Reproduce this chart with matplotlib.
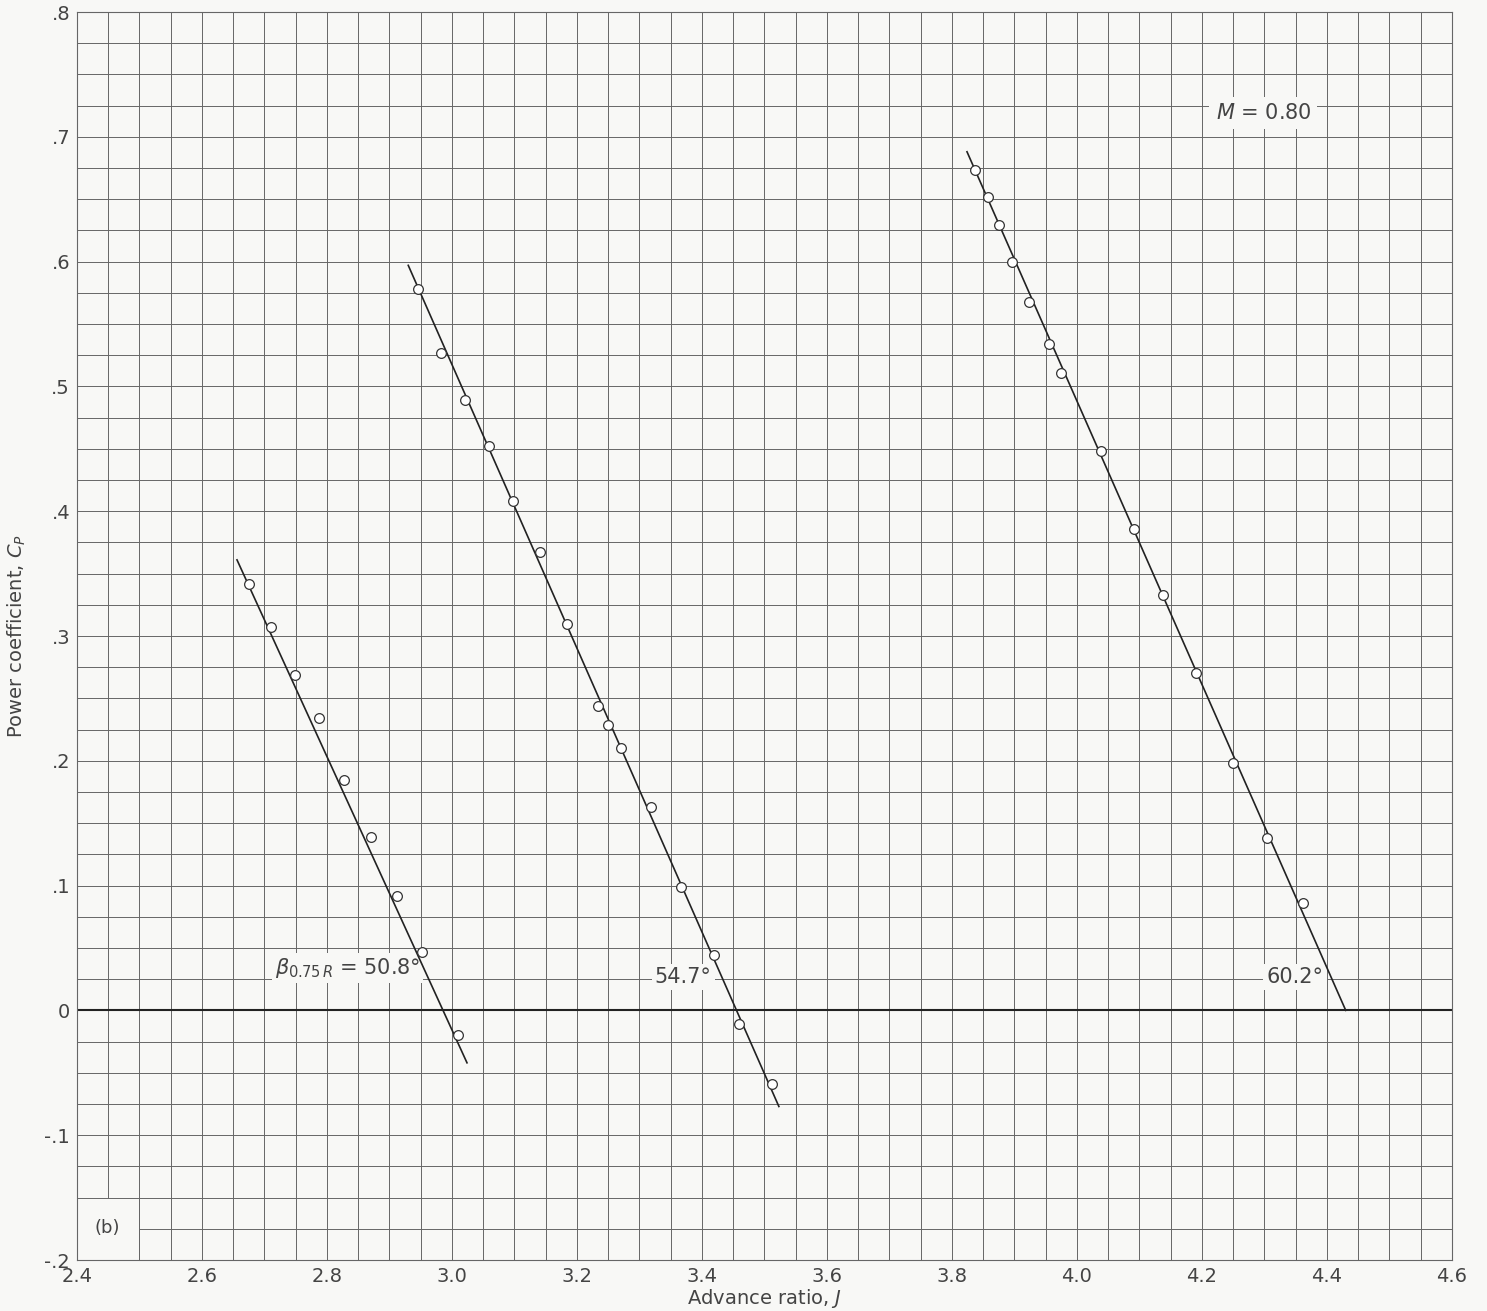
import matplotlib
matplotlib.use("Agg")
import matplotlib.pyplot as plt
from matplotlib.patches import Rectangle
import numpy as np

# ---- data ----
j_508 = [2.675, 2.710, 2.749, 2.787, 2.827, 2.870, 2.912, 2.952, 3.010]
cp_508 = [0.342, 0.307, 0.269, 0.234, 0.185, 0.139, 0.092, 0.047, -0.020]
fair_j_508 = [2.656, 3.024]
fair_cp_508 = [0.361, -0.042]

j_547 = [2.946, 2.982, 3.021, 3.059, 3.098, 3.141, 3.184, 3.234, 3.250, 3.270,
         3.318, 3.366, 3.419, 3.459, 3.512]
cp_547 = [0.578, 0.527, 0.489, 0.452, 0.408, 0.367, 0.310, 0.244, 0.229, 0.210,
          0.163, 0.099, 0.044, -0.011, -0.059]
fair_j_547 = [2.930, 3.523]
fair_cp_547 = [0.597, -0.077]

j_602 = [3.837, 3.858, 3.875, 3.896, 3.923, 3.955, 3.974, 4.038, 4.091, 4.138,
         4.190, 4.250, 4.304, 4.362]
cp_602 = [0.673, 0.652, 0.629, 0.600, 0.568, 0.534, 0.511, 0.448, 0.386, 0.333,
          0.270, 0.198, 0.138, 0.086]
fair_j_602 = [3.824, 4.430]
fair_cp_602 = [0.688, 0.0]

x_ticks = [2.4, 2.6, 2.8, 3.0, 3.2, 3.4, 3.6, 3.8, 4.0, 4.2, 4.4, 4.6]
x_ticklabels = ["2.4", "2.6", "2.8", "3.0", "3.2", "3.4", "3.6", "3.8", "4.0", "4.2", "4.4", "4.6"]
y_ticks = [-0.2, -0.1, 0.0, 0.1, 0.2, 0.3, 0.4, 0.5, 0.6, 0.7, 0.8]
y_ticklabels = ["-.2", "-.1", "0", ".1", ".2", ".3", ".4", ".5", ".6", ".7", ".8"]

BG = "#f8f8f6"
GRID = "#666666"
TXT = "#444444"

fig = plt.figure(figsize=(14.87, 13.11), dpi=100, facecolor=BG)
ax = fig.add_axes([77/1487, 1 - 1260/1311, (1452 - 77)/1487, (1260 - 12)/1311])
ax.set_facecolor(BG)
ax.set_xlim(2.4, 4.6)
ax.set_ylim(-0.2, 0.8)

ax.set_xticks(x_ticks)
ax.set_xticklabels(x_ticklabels)
ax.set_yticks(y_ticks)
ax.set_yticklabels(y_ticklabels)
ax.set_xticks(np.arange(2.4, 4.6001, 0.05), minor=True)
ax.set_yticks(np.arange(-0.2, 0.8001, 0.025), minor=True)
ax.grid(which="both", color=GRID, linewidth=0.7, zorder=0)
ax.set_axisbelow(True)
ax.tick_params(which="both", length=0)
ax.tick_params(axis="x", pad=5, labelsize=14, labelcolor=TXT)
ax.tick_params(axis="y", pad=5, labelsize=14, labelcolor=TXT)
for s in ax.spines.values():
    s.set_color(GRID)
    s.set_linewidth(0.8)

ax.axhline(0, color="#222222", linewidth=1.5, zorder=1)

for fj, fc, j, cp in [(fair_j_508, fair_cp_508, j_508, cp_508),
                      (fair_j_547, fair_cp_547, j_547, cp_547),
                      (fair_j_602, fair_cp_602, j_602, cp_602)]:
    ax.plot(fj, fc, color="#222222", linewidth=1.2, zorder=3)
    ax.plot(j, cp, linestyle="none", marker="o", markersize=7,
            markerfacecolor="white", markeredgecolor="#333333",
            markeredgewidth=0.9, zorder=4)

box = dict(boxstyle="square,pad=0.15", facecolor=BG, edgecolor="none")
ax.text(2.717, 0.034, r"$\beta_{0.75\,R}$ = 50.8°", fontsize=15, color=TXT,
        ha="left", va="center", bbox=box, zorder=2)
ax.text(3.370, 0.027, "54.7°", fontsize=15, color=TXT, ha="center", va="center",
        bbox=box, zorder=2)
ax.text(4.349, 0.027, "60.2°", fontsize=15, color=TXT, ha="center", va="center",
        bbox=box, zorder=2)
ax.text(4.298, 0.719, r"$M$ = 0.80", fontsize=15, color=TXT, ha="center", va="center",
        bbox=dict(boxstyle="square,pad=0.3", facecolor=BG, edgecolor="none"), zorder=2)

ax.add_patch(Rectangle((2.4, -0.2), 0.1, 0.05, facecolor=BG, edgecolor="none", zorder=1.5))
ax.plot([2.5, 2.5], [-0.2, -0.15], color=GRID, linewidth=0.7, zorder=1.6)
ax.plot([2.4, 2.5], [-0.15, -0.15], color=GRID, linewidth=0.7, zorder=1.6)
ax.text(2.448, -0.174, "(b)", fontsize=13, color=TXT, ha="center", va="center", zorder=2)

ax.set_xlabel(r"Advance ratio, $J$", fontsize=14, color=TXT, labelpad=1)
ax.set_ylabel(r"Power coefficient, $C_P$", fontsize=14, color=TXT, labelpad=12)

fig.savefig("out.png", dpi=100, facecolor=BG)
